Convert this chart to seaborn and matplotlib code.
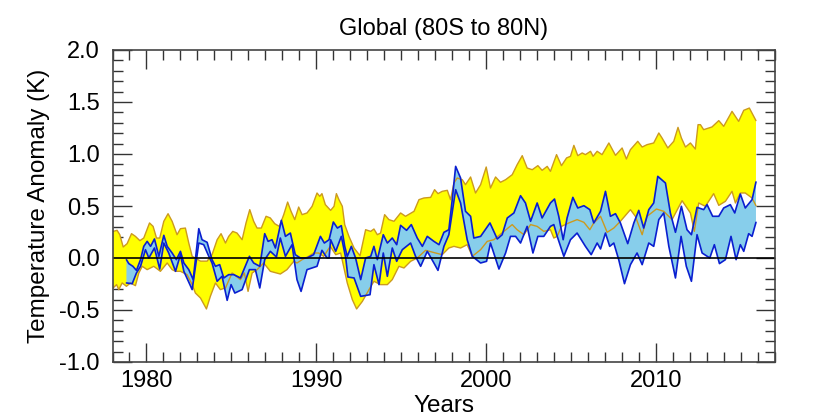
import numpy as np
import matplotlib
matplotlib.use('Agg')
import matplotlib.pyplot as plt
from matplotlib.ticker import MultipleLocator
import seaborn as sns

# Model envelope, upper edge
model_hi_yr = [1978.04,1978.27,1978.43,1978.63,1978.86,1979.12,1979.35,1979.61,1979.84,1980.18,1980.39,1980.59,1980.78,1981.02,1981.27,1981.51,1981.80,1982.00,1982.29,1982.49,1982.69,1983.18,1983.57,1983.86,1984.16,1984.39,1984.65,1984.84,1985.08,1985.33,1985.63,1985.86,1986.08,1986.31,1986.51,1986.76,1987.04,1987.29,1987.55,1987.82,1988.08,1988.31,1988.51,1988.73,1988.96,1989.16,1989.45,1989.75,1990.04,1990.20,1990.33,1990.53,1990.84,1991.04,1991.18,1991.33,1991.53,1991.67,1991.92,1992.22,1992.57,1992.90,1993.20,1993.39,1993.59,1993.78,1994.02,1994.27,1994.57,1994.96,1995.25,1995.75,1996.04,1996.33,1996.73,1996.96,1997.16,1997.41,1997.71,1997.90,1998.10,1998.29,1998.59,1998.78,1999.08,1999.37,1999.67,2000.00,2000.25,2000.55,2000.84,2001.14,2001.53,2001.82,2002.12,2002.41,2002.71,2003.04,2003.29,2003.59,2003.78,2004.14,2004.43,2004.73,2004.96,2005.16,2005.39,2005.65,2005.84,2006.14,2006.29,2006.53,2006.82,2007.22,2007.61,2008.00,2008.25,2008.49,2008.92,2009.18,2009.47,2009.86,2010.16,2010.35,2010.69,2011.04,2011.29,2011.49,2011.73,2012.02,2012.31,2012.47,2012.61,2012.80,2013.29,2013.69,2013.98,2014.47,2014.86,2015.16,2015.49,2015.88]
model_hi = [.256,.266,.224,.106,.138,.234,.208,.167,.192,.337,.304,.192,.192,.353,.426,.353,.224,.282,.288,.144,.016,-.03,-.03,.032,.176,.234,.144,.208,.256,.240,.176,.337,.465,.353,.288,.288,.401,.385,.330,.304,.417,.538,.449,.369,.490,.417,.433,.497,.625,.593,.619,.513,.458,.497,.619,.561,.497,.321,.208,.096,.022,.272,.256,.279,.224,.240,.417,.369,.353,.433,.401,.449,.561,.577,.583,.657,.619,.641,.651,.561,.721,.769,.753,.705,.779,.625,.705,.875,.673,.779,.728,.753,.801,.897,.984,.865,.849,.888,.843,.881,.833,.994,.888,.962,.978,1.083,.984,1.010,.994,1.026,.978,1.026,.994,1.106,.987,1.058,.952,1.042,1.122,1.067,1.090,1.106,1.202,1.154,1.058,1.122,1.256,1.154,1.067,1.106,1.048,1.282,1.282,1.234,1.260,1.321,1.266,1.410,1.314,1.420,1.442,1.321]

# Model envelope, lower edge
model_lo_yr = [1978.04,1978.24,1978.37,1978.57,1978.82,1979.06,1979.35,1979.55,1979.75,1980.04,1980.43,1980.82,1981.22,1981.51,1981.71,1982.00,1982.39,1982.69,1982.88,1983.18,1983.53,1983.76,1984.06,1984.35,1984.65,1985.04,1985.53,1985.76,1985.98,1986.22,1986.51,1986.90,1987.29,1987.88,1988.27,1988.67,1988.86,1989.16,1989.55,1989.84,1990.14,1990.43,1990.82,1991.14,1991.43,1991.82,1992.12,1992.37,1992.71,1993.10,1993.39,1993.78,1994.18,1994.47,1994.86,1995.16,1995.55,1995.94,1996.43,1997.02,1997.41,1997.80,1998.10,1998.49,1998.88,1999.18,1999.67,2000.06,2000.45,2001.04,2001.53,2001.82,2002.22,2002.61,2003.00,2003.39,2003.78,2003.98,2004.18,2004.43,2004.86,2005.35,2005.75,2006.10,2006.33,2006.73,2007.12,2007.51,2007.90,2008.49,2008.78,2009.18,2009.47,2010.02,2010.45,2010.94,2011.53,2012.02,2012.25,2012.51,2012.90,2013.39,2013.69,2014.08,2014.47,2014.67,2014.96,2015.25,2015.65,2015.88]
model_lo = [-.288,-.256,-.304,-.240,-.272,-.240,-.266,-.144,-.080,-.112,-.080,-.128,-.048,-.112,-.128,-.128,-.160,-.256,-.337,-.385,-.490,-.369,-.240,-.304,-.288,-.144,-.208,-.144,-.321,-.144,-.112,-.048,-.128,-.154,-.112,-.032,-.048,-.016,.016,.048,.048,.016,.112,.032,.048,-.240,-.401,-.490,-.417,-.304,-.224,-.256,-.256,-.208,-.080,-.096,-.032,0,.074,.048,.032,.096,.112,.096,.128,.016,.080,.160,.176,.256,.321,.272,.224,.321,.304,.256,.272,.192,.208,.304,.337,.369,.343,.272,.337,.401,.247,.288,.353,.465,.401,.224,.401,.471,.449,.369,.551,.433,.256,.529,.497,.619,.506,.545,.641,.529,.625,.625,.577,.503]

# Observations, upper edge
obs_hi_yr = [1978.82,1978.96,1979.20,1979.41,1979.65,1979.84,1980.04,1980.24,1980.47,1980.73,1981.02,1981.22,1981.51,1981.76,1982.00,1982.20,1982.49,1982.75,1983.08,1983.27,1983.57,1983.86,1984.06,1984.31,1984.55,1984.84,1985.14,1985.53,1986.06,1986.31,1986.67,1986.96,1987.16,1987.39,1987.59,1987.94,1988.18,1988.47,1988.76,1989.06,1989.45,1989.84,1990.24,1990.47,1990.75,1991.00,1991.24,1991.47,1991.67,1991.82,1992.06,1992.31,1992.61,1992.90,1993.20,1993.39,1993.59,1993.94,1994.18,1994.47,1994.73,1994.96,1995.31,1995.59,1995.94,1996.24,1996.53,1996.92,1997.22,1997.51,1997.80,1998.00,1998.20,1998.49,1998.78,1999.08,1999.27,1999.67,2000.22,2000.65,2000.94,2001.24,2001.63,2002.02,2002.31,2002.61,2003.00,2003.29,2003.78,2004.02,2004.27,2004.53,2004.76,2005.10,2005.39,2005.75,2006.10,2006.33,2006.73,2007.02,2007.31,2007.61,2007.90,2008.33,2008.69,2008.98,2009.27,2009.57,2009.86,2010.10,2010.55,2010.84,2011.14,2011.49,2011.82,2012.08,2012.41,2012.80,2013.00,2013.33,2013.69,2013.98,2014.37,2014.63,2014.96,2015.25,2015.65,2015.88]
obs_hi = [-.016,-.054,-.080,-.119,-.016,.112,.160,.112,.183,.016,.218,.112,.048,-.016,.064,-.048,-.112,-.208,.282,.176,.151,-.016,-.080,-.064,-.192,-.160,-.160,-.192,.016,-.048,-.080,.234,.160,.176,.096,.362,.208,.240,.032,0,0,.032,.208,.144,.176,.346,.288,.311,.112,.016,.112,0,-.208,0,.016,.112,-.016,.224,.144,.192,.128,.314,.266,.321,.192,.112,.208,.160,.128,.247,.272,.561,.881,.769,.449,.401,.192,.208,.337,.183,.224,.385,.433,.599,.529,.353,.529,.385,.529,.567,.401,.176,.385,.583,.481,.503,.465,.337,.449,.641,.401,.426,.337,.138,.337,.458,.288,.465,.529,.785,.721,.433,.247,.497,.272,.224,.487,.465,.513,.401,.401,.481,.513,.433,.615,.481,.561,.731]

# Observations, lower edge
obs_lo_yr = [1978.82,1979.16,1979.41,1979.65,1979.94,1980.14,1980.47,1980.78,1981.02,1981.31,1981.71,1982.00,1982.20,1982.69,1983.08,1983.37,1983.67,1983.86,1984.16,1984.45,1984.75,1984.98,1985.20,1985.63,1986.06,1986.41,1986.67,1986.96,1987.29,1987.65,1987.88,1988.18,1988.57,1988.86,1989.10,1989.45,1990.04,1990.33,1990.63,1990.75,1990.84,1991.14,1991.47,1991.73,1991.86,1992.22,1992.61,1993.16,1993.39,1993.69,1993.94,1994.18,1994.47,1994.73,1995.06,1995.55,1995.84,1996.14,1996.53,1996.92,1997.16,1997.51,1997.80,1998.20,1998.49,1998.88,1999.18,1999.67,2000.02,2000.25,2000.75,2001.14,2001.43,2001.73,2002.02,2002.41,2002.75,2003.04,2003.39,2003.78,2003.98,2004.18,2004.57,2004.96,2005.35,2005.84,2006.18,2006.53,2006.73,2007.02,2007.27,2007.51,2007.80,2008.14,2008.49,2008.88,2009.18,2009.57,2009.86,2010.16,2010.45,2010.75,2011.14,2011.47,2011.78,2012.08,2012.41,2012.71,2013.16,2013.43,2013.73,2014.08,2014.41,2014.71,2014.96,2015.16,2015.45,2015.65,2015.88]
obs_lo = [-.240,-.247,-.144,-.080,.080,0,.096,-.106,.144,.048,-.128,.032,-.128,-.304,.144,.128,.016,-.048,-.224,-.176,-.407,-.256,-.337,-.304,-.112,-.112,-.288,-.016,.064,.010,.192,.016,.128,-.208,-.321,-.112,-.080,.074,0,0,.176,.064,.208,0,-.183,-.192,-.369,-.353,-.064,-.256,.048,-.176,.096,-.032,.080,.144,.016,-.080,.064,-.048,-.119,.112,.224,.657,.529,.176,.016,-.048,-.032,.144,-.106,.048,.208,.208,.144,.304,.048,.208,.208,.304,.321,.208,.016,.176,.240,.112,.032,.144,.087,.240,.112,.144,-.016,-.247,-.064,.048,-.064,.144,.112,.369,.433,.112,-.192,.208,-.080,-.224,.224,.048,0,.128,-.054,-.016,.208,-.016,.128,.064,.234,.208,.343]

sns.set_style('ticks')
plt.rcParams['font.family'] = ['Liberation Sans', 'DejaVu Sans']
plt.rcParams['axes.unicode_minus'] = False

fig = plt.figure(figsize=(8.4, 4.2), dpi=100)
ax = fig.add_axes([112.5/840, 1 - 362/420, (775 - 112.5)/840, (362 - 50)/420])

# Envelopes are closed shapes, upper edge then lower edge backwards
ax.fill(np.r_[model_hi_yr, model_lo_yr[::-1]], np.r_[model_hi, model_lo[::-1]],
        color='#ffff00', lw=0, zorder=1)
ax.fill(np.r_[obs_hi_yr, obs_lo_yr[::-1]], np.r_[obs_hi, obs_lo[::-1]],
        color='#87ceeb', lw=0, zorder=2)

for xs, ys in [(model_hi_yr, model_hi), (model_lo_yr, model_lo)]:
    sns.lineplot(x=xs, y=ys, ax=ax, color='#cc9a1e', lw=1.0, estimator=None, sort=False,
                 solid_joinstyle='round', zorder=3)
for xs, ys in [(obs_hi_yr, obs_hi), (obs_lo_yr, obs_lo)]:
    sns.lineplot(x=xs, y=ys, ax=ax, color='#0a1fd0', lw=1.2, estimator=None, sort=False,
                 solid_joinstyle='round', zorder=4)

ax.axhline(0, color='black', lw=1.2, zorder=5)

ax.set_xlim(1978, 2017)
ax.set_ylim(-1, 2)
ax.xaxis.set_major_locator(MultipleLocator(10))
ax.xaxis.set_minor_locator(MultipleLocator(1))
ax.yaxis.set_major_locator(MultipleLocator(0.5))
ax.yaxis.set_minor_locator(MultipleLocator(0.1))
ax.yaxis.set_major_formatter('{x:.1f}')

ax.tick_params(which='major', direction='in', length=13.5, width=1, top=True, right=True,
               color='#333333', labelcolor='black', labelsize=17)
ax.tick_params(which='minor', direction='in', length=7, width=1, top=True, right=True, color='#333333')
ax.tick_params(axis='x', pad=6)
ax.tick_params(axis='y', pad=9)
for s in ax.spines.values():
    s.set_linewidth(1.2)
    s.set_color('#444444')
    s.set_zorder(7)

ax.set_title('Global (80S to 80N)', fontsize=17, color='black', pad=10.5)
ax.set_xlabel('Years', fontsize=17.5, color='black')
ax.set_ylabel('Temperature Anomaly (K)', fontsize=17.5, color='black')
ax.xaxis.set_label_coords(0.5, -0.105)
ax.yaxis.set_label_coords(-0.095, 0.5)

fig.savefig('out.png', dpi=100)
